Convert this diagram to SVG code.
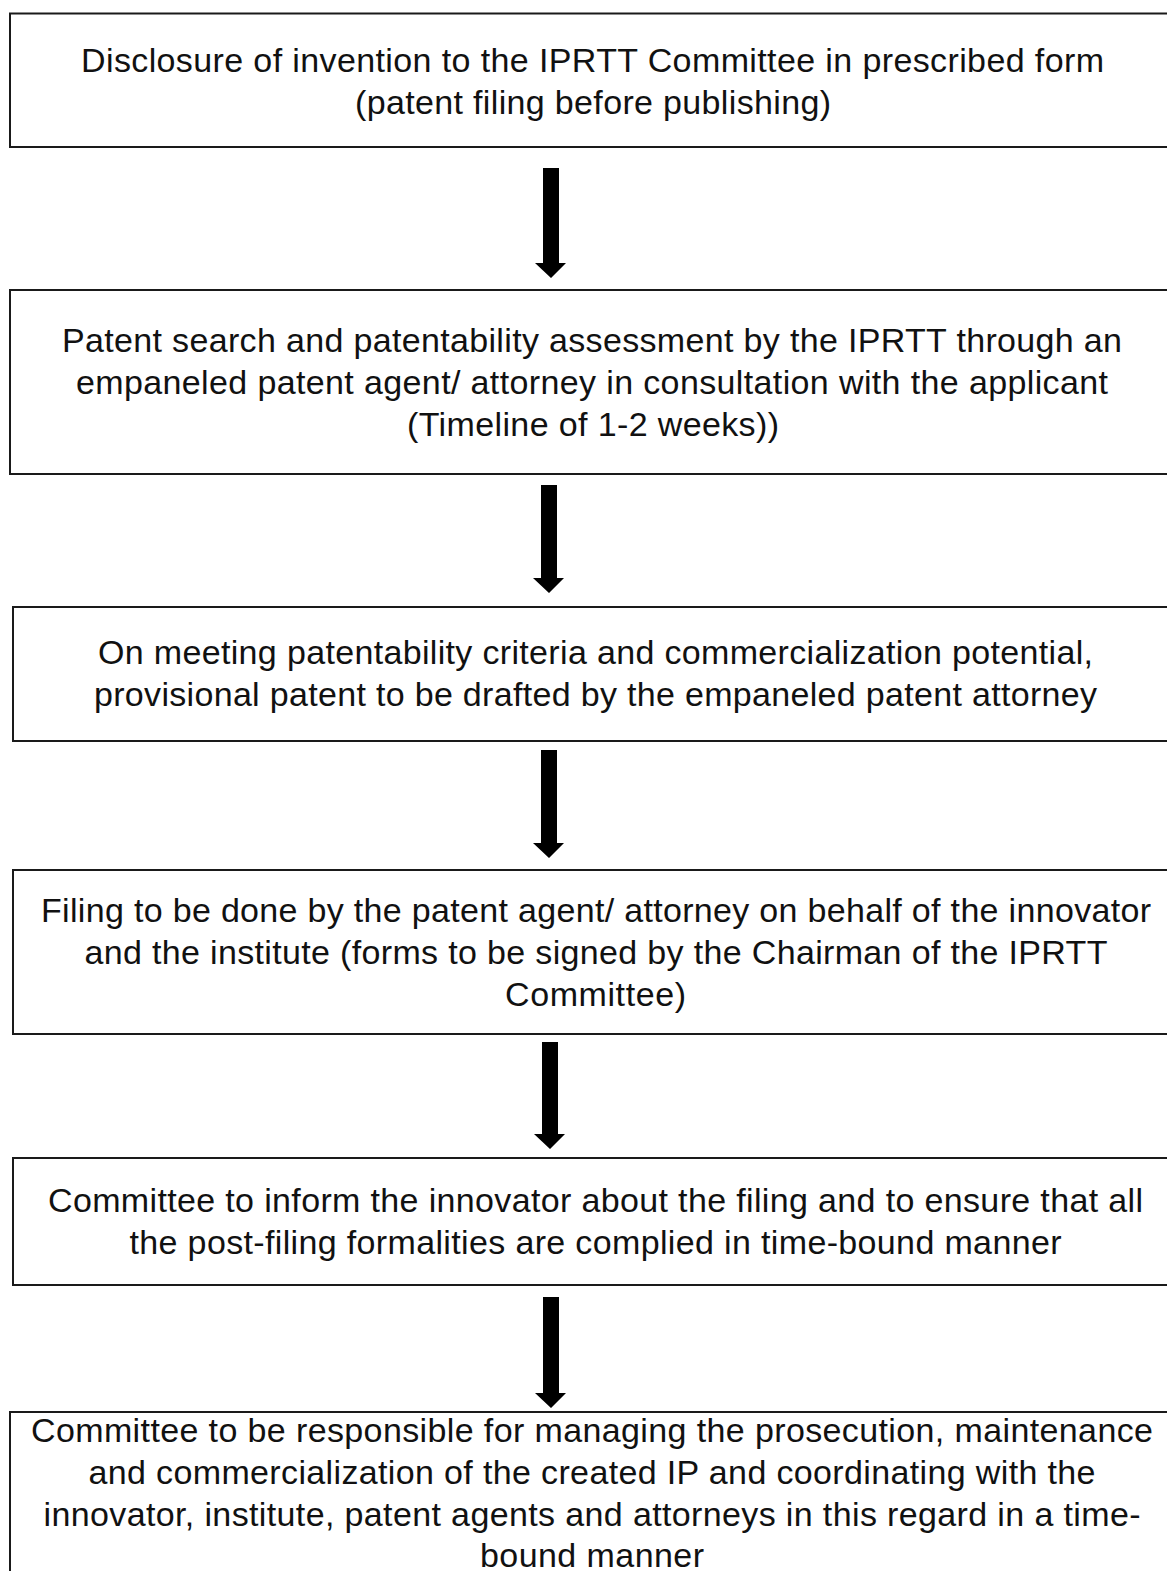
<svg xmlns="http://www.w3.org/2000/svg" width="1167" height="1571" viewBox="0 0 1167 1571">
<style>
.box{fill:#fff;stroke:#1a1a1a;stroke-width:2}
.t{font-family:"Liberation Sans",Arial,sans-serif;font-size:34px;fill:#111;text-anchor:middle}
.arr{fill:#000}
</style>
<rect width="1167" height="1571" fill="#fff"/>
<g id="connectors">
<polygon class="arr" points="543,168 559,168 559,263 566,263 551,278 535,263 543,263"/>
<polygon class="arr" points="541,485 557,485 557,578 564,578 549,593 533,578 541,578"/>
<polygon class="arr" points="541,750 557,750 557,843 564,843 549,858 533,843 541,843"/>
<polygon class="arr" points="542,1042 558,1042 558,1134 565,1134 550,1149 534,1134 542,1134"/>
<polygon class="arr" points="543,1297 559,1297 559,1393 566,1393 551,1408 535,1393 543,1393"/>
</g>
<g id="node1">
<rect class="box" x="10" y="13.5" width="1180" height="133.5"/>
<text class="t" x="592.5" y="72" textLength="1023">Disclosure of invention to the IPRTT Committee in prescribed form</text>
<text class="t" x="593" y="114" textLength="476">(patent filing before publishing)</text>
</g>
<g id="node2">
<rect class="box" x="10" y="290" width="1180" height="184"/>
<text class="t" x="592" y="352" textLength="1060">Patent search and patentability assessment by the IPRTT through an</text>
<text class="t" x="592" y="394" textLength="1032">empaneled patent agent/ attorney in consultation with the applicant</text>
<text class="t" x="593" y="436" textLength="372">(Timeline of 1-2 weeks))</text>
</g>
<g id="node3">
<rect class="box" x="13" y="607" width="1180" height="134"/>
<text class="t" x="595.5" y="664" textLength="995">On meeting patentability criteria and commercialization potential,</text>
<text class="t" x="595.5" y="706" textLength="1003">provisional patent to be drafted by the empaneled patent attorney</text>
</g>
<g id="node4">
<rect class="box" x="13" y="870" width="1180" height="164"/>
<text class="t" x="596" y="922" textLength="1110">Filing to be done by the patent agent/ attorney on behalf of the innovator</text>
<text class="t" x="596" y="964" textLength="1023">and the institute (forms to be signed by the Chairman of the IPRTT</text>
<text class="t" x="595.5" y="1006" textLength="181">Committee)</text>
</g>
<g id="node5">
<rect class="box" x="13" y="1158" width="1180" height="127"/>
<text class="t" x="595.5" y="1212" textLength="1095">Committee to inform the innovator about the filing and to ensure that all</text>
<text class="t" x="595.5" y="1254" textLength="932">the post-filing formalities are complied in time-bound manner</text>
</g>
<g id="node6">
<rect class="box" x="10" y="1412" width="1180" height="200"/>
<text class="t" x="592" y="1442" textLength="1122">Committee to be responsible for managing the prosecution, maintenance</text>
<text class="t" x="592" y="1484" textLength="1007">and commercialization of the created IP and coordinating with the</text>
<text class="t" x="592" y="1526" textLength="1097">innovator, institute, patent agents and attorneys in this regard in a time-</text>
<text class="t" x="592" y="1567" textLength="224">bound manner</text>
</g>
</svg>
